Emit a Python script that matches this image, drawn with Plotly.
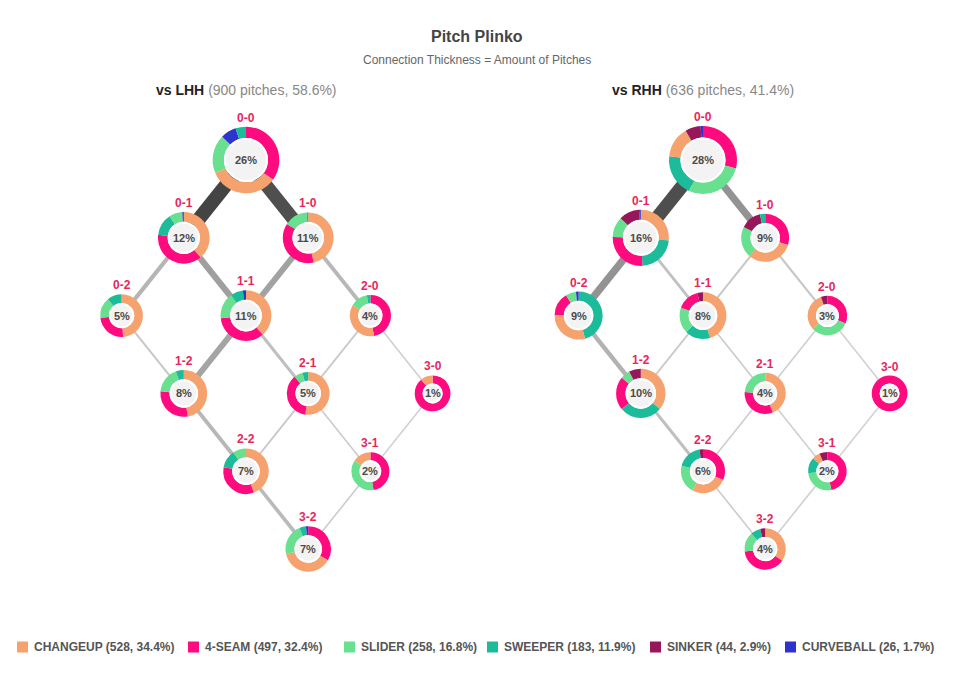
import plotly.graph_objects as go

W, H = 954, 675
FONT = "Liberation Sans, Arial, Helvetica, sans-serif"

# ---------------- data ----------------
PITCHES = ["CHANGEUP", "4-SEAM", "SLIDER", "SWEEPER", "SINKER", "CURVEBALL"]
PITCH_COLORS = {
    "CHANGEUP": "#f5a26f",
    "4-SEAM": "#ff0a7f",
    "SLIDER": "#69e08f",
    "SWEEPER": "#1cbc9b",
    "SINKER": "#98165a",
    "CURVEBALL": "#2d33cc",
}

COUNT_STATES = ["0-0", "0-1", "1-0", "0-2", "1-1", "2-0",
                "1-2", "2-1", "3-0", "2-2", "3-1", "3-2"]

# pitch mix per count (listed in the order drawn clockwise from 12 o'clock)
LHH_MIX = {
    "0-0": [("4-SEAM", 83), ("CHANGEUP", 80), ("SLIDER", 44), ("CURVEBALL", 18), ("SWEEPER", 12)],
    "0-1": [("CHANGEUP", 42), ("4-SEAM", 41), ("SWEEPER", 15), ("SLIDER", 9), ("CURVEBALL", 1)],
    "1-0": [("CHANGEUP", 47), ("4-SEAM", 38), ("SLIDER", 15), ("SWEEPER", 1)],
    "0-2": [("CHANGEUP", 22), ("4-SEAM", 11), ("SLIDER", 7), ("SWEEPER", 5)],
    "1-1": [("CHANGEUP", 39), ("4-SEAM", 35), ("SLIDER", 17), ("SWEEPER", 8), ("CURVEBALL", 2)],
    "2-0": [("4-SEAM", 17), ("CHANGEUP", 13), ("SLIDER", 5), ("SWEEPER", 1)],
    "1-2": [("CHANGEUP", 34), ("4-SEAM", 21), ("SLIDER", 13), ("SWEEPER", 4)],
    "2-1": [("CHANGEUP", 24), ("4-SEAM", 17), ("SLIDER", 3), ("SWEEPER", 2)],
    "3-0": [("4-SEAM", 8), ("CHANGEUP", 1)],
    "2-2": [("CHANGEUP", 28), ("4-SEAM", 21), ("SWEEPER", 8), ("SLIDER", 6)],
    "3-1": [("4-SEAM", 9), ("SLIDER", 7), ("CHANGEUP", 3)],
    "3-2": [("4-SEAM", 21), ("CHANGEUP", 24), ("SLIDER", 14), ("SWEEPER", 3), ("CURVEBALL", 1)],
}

RHH_MIX = {
    "0-0": [("4-SEAM", 51), ("SLIDER", 49), ("SWEEPER", 35), ("CHANGEUP", 26), ("SINKER", 13), ("CURVEBALL", 2)],
    "0-1": [("CHANGEUP", 27), ("SWEEPER", 23), ("4-SEAM", 27), ("SLIDER", 12), ("SINKER", 12), ("CURVEBALL", 1)],
    "1-0": [("4-SEAM", 17), ("CHANGEUP", 18), ("SLIDER", 12), ("SINKER", 8), ("SWEEPER", 2)],
    "0-2": [("SWEEPER", 26), ("CHANGEUP", 17), ("4-SEAM", 9), ("SLIDER", 4), ("CURVEBALL", 1)],
    "1-1": [("CHANGEUP", 23), ("SWEEPER", 9), ("SLIDER", 9), ("4-SEAM", 8), ("SINKER", 2)],
    "2-0": [("4-SEAM", 6), ("SLIDER", 6), ("CHANGEUP", 6), ("SINKER", 1)],
    "1-2": [("CHANGEUP", 23), ("SWEEPER", 18), ("4-SEAM", 14), ("SLIDER", 4), ("SINKER", 5)],
    "2-1": [("CHANGEUP", 11), ("4-SEAM", 8), ("SLIDER", 6)],
    "3-0": [("4-SEAM", 6)],
    "2-2": [("4-SEAM", 12), ("CHANGEUP", 10), ("SLIDER", 8), ("SWEEPER", 7), ("SINKER", 1)],
    "3-1": [("4-SEAM", 7), ("SLIDER", 4), ("SWEEPER", 2), ("CHANGEUP", 1), ("SINKER", 1)],
    "3-2": [("CHANGEUP", 9), ("4-SEAM", 10), ("SLIDER", 4), ("SWEEPER", 2), ("SINKER", 1)],
}

# transitions between counts (pitches)
LHH_LINKS = [
    ("0-0", "0-1", 108), ("0-0", "1-0", 101),
    ("0-1", "0-2", 32), ("0-1", "1-1", 48),
    ("1-0", "1-1", 46), ("1-0", "2-0", 30),
    ("0-2", "1-2", 16), ("1-1", "1-2", 45),
    ("1-1", "2-1", 24), ("2-0", "2-1", 14),
    ("2-0", "3-0", 9),
    ("1-2", "2-2", 30), ("2-1", "2-2", 15),
    ("2-1", "3-1", 12), ("3-0", "3-1", 6),
    ("2-2", "3-2", 28), ("3-1", "3-2", 12),
]
RHH_LINKS = [
    ("0-0", "0-1", 102), ("0-0", "1-0", 57),
    ("0-1", "0-2", 57), ("0-1", "1-1", 22),
    ("1-0", "1-1", 16), ("1-0", "2-0", 17),
    ("0-2", "1-2", 34), ("1-1", "1-2", 14),
    ("1-1", "2-1", 12), ("2-0", "2-1", 10),
    ("2-0", "3-0", 6),
    ("1-2", "2-2", 24), ("2-1", "2-2", 10),
    ("2-1", "3-1", 8), ("3-0", "3-1", 5),
    ("2-2", "3-2", 12), ("3-1", "3-2", 9),
]

PANELS = [("vs LHH", LHH_MIX, LHH_LINKS), ("vs RHH", RHH_MIX, RHH_LINKS)]

# ---------------- layout constants ----------------
PANEL_CX = [246, 703]
TOP_Y = 160
DX = 62.2
DY = 77.8
HEADER_Y = 90
LEGEND_Y = 647
LEGEND_X = [17, 188, 344, 487, 650, 785]
LABEL_COLOR = "#e8265e"

def px(x):
    return x / W

def py(y):
    return 1 - y / H

def node_xy(cx, state):
    b, s = map(int, state.split("-"))
    return cx + DX * (b - s), TOP_Y + DY * (b + s)

def radius(pct):
    return 16.5 + 1.45 * pct ** 0.75

def text_ann(x, y, text, size, color, xanchor="center"):
    return dict(x=px(x), y=py(y), xref="paper", yref="paper", text=text,
                showarrow=False, xanchor=xanchor, yanchor="middle",
                font=dict(size=size, color=color, family=FONT))

grand_total = sum(c for _, mix, _ in PANELS for st in mix.values() for _, c in st)
vmax = max(v for _, _, links in PANELS for *_, v in links)

fig = go.Figure()
shapes = []
annotations = []

for (name, mix, links), cx in zip(PANELS, PANEL_CX):
    total = sum(c for st in mix.values() for _, c in st)
    # links
    for a, b, v in links:
        x0, y0 = node_xy(cx, a)
        x1, y1 = node_xy(cx, b)
        f = v / vmax
        g = int(round(215 - 147 * f ** 1.2))
        fig.add_trace(go.Scatter(
            x=[x0, x1], y=[y0, y1], mode="lines",
            line=dict(color=f"rgb({g},{g},{g})", width=max(1.6, 14 * f)),
            hoverinfo="skip", showlegend=False))
    # donuts
    for st in COUNT_STATES:
        items = mix[st]
        n = sum(c for _, c in items)
        pct = 100 * n / total
        r = radius(pct)
        thick = 4 + 0.22 * r
        hole_r = r - thick
        x, y = node_xy(cx, st)
        fig.add_trace(go.Pie(
            labels=[p for p, _ in items], values=[c for _, c in items],
            marker=dict(colors=[PITCH_COLORS[p] for p, _ in items], line=dict(width=0)),
            hole=hole_r / r, sort=False, direction="clockwise", rotation=0,
            textinfo="none", hoverinfo="label+value", showlegend=False,
            domain=dict(x=[px(x - r), px(x + r)], y=[py(y + r), py(y - r)])))
        ir = hole_r - 1
        shapes.append(dict(type="circle", xref="paper", yref="paper", layer="above",
                           x0=px(x - ir), x1=px(x + ir), y0=py(y + ir), y1=py(y - ir),
                           fillcolor="#f3f3f3", line=dict(color="white", width=2)))
        annotations.append(text_ann(x, y, f"<b>{pct:.0f}%</b>", 11, "#4a4a4a"))
        annotations.append(text_ann(x, y - r - 9, f"<b>{st}</b>", 12, LABEL_COLOR))
    annotations.append(text_ann(
        cx, HEADER_Y,
        (f"<b><span style='color:#222'>{name}</span></b> "
         f"<span style='color:#888'>({total} pitches, {100 * total / grand_total:.1f}%)</span>"),
        14, "#222"))

# titles
annotations.append(text_ann(W / 2, 36, "<b>Pitch Plinko</b>", 16, "#444"))
annotations.append(text_ann(W / 2, 60, "Connection Thickness = Amount of Pitches", 12, "#666"))

# legend
pitch_totals = {p: 0 for p in PITCHES}
for _, mix, _ in PANELS:
    for st in mix.values():
        for p, c in st:
            pitch_totals[p] += c
for p, lx in zip(PITCHES, LEGEND_X):
    shapes.append(dict(type="rect", xref="paper", yref="paper", layer="above",
                       x0=px(lx), x1=px(lx + 11), y0=py(LEGEND_Y + 5.5), y1=py(LEGEND_Y - 5.5),
                       fillcolor=PITCH_COLORS[p], line=dict(width=0)))
    annotations.append(text_ann(
        lx + 15, LEGEND_Y,
        f"<b>{p} ({pitch_totals[p]}, {100 * pitch_totals[p] / grand_total:.1f}%)</b>",
        12, "#555", xanchor="left"))

fig.update_layout(
    width=W, height=H, margin=dict(l=0, r=0, t=0, b=0),
    paper_bgcolor="white", plot_bgcolor="white",
    xaxis=dict(range=[0, W], visible=False, fixedrange=True),
    yaxis=dict(range=[H, 0], visible=False, fixedrange=True),
    shapes=shapes, annotations=annotations, showlegend=False,
)

fig.write_html("out.html", config={"displayModeBar": False},
               post_script="document.body.style.margin='0';")
